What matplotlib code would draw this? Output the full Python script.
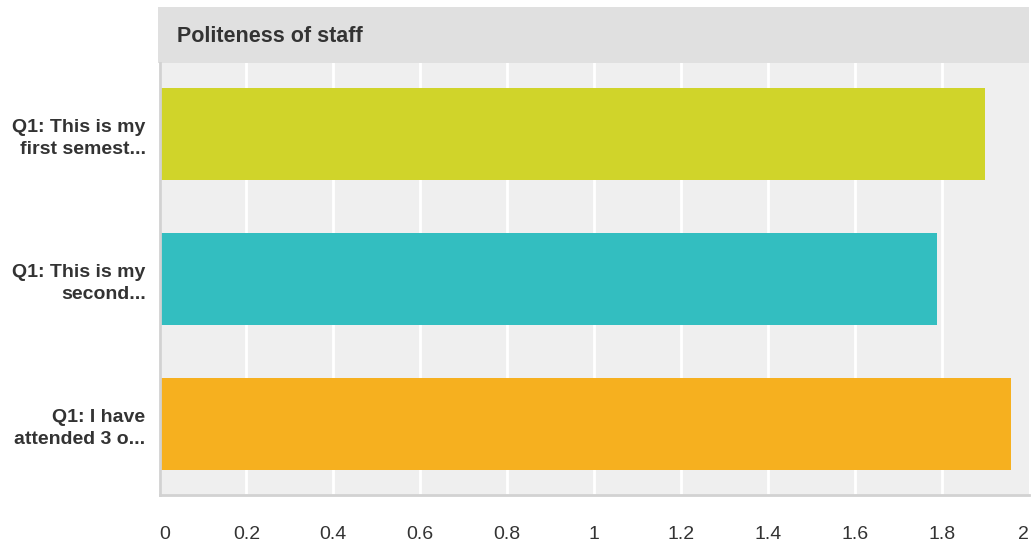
import matplotlib.pyplot as plt

plt.rcParams['font.family'] = ['Liberation Sans', 'DejaVu Sans']

categories = ["Q1: This is my\nfirst semest...", "Q1: This is my\nsecond...", "Q1: I have\nattended 3 o..."]
values = [1.90, 1.79, 1.96]
colors = ["#d0d42a", "#33bec0", "#f6b01f"]
xticks = [0, 0.2, 0.4, 0.6, 0.8, 1, 1.2, 1.4, 1.6, 1.8, 2]
title = "Politeness of staff"

fig = plt.figure(figsize=(10.34, 5.44), dpi=100)
W, H = 1034, 544

# header band
hdr = fig.add_axes([158 / W, (H - 63) / H, 871 / W, 56 / H])
hdr.set_facecolor("#e0e0e0")
hdr.set_xticks([])
hdr.set_yticks([])
for s in hdr.spines.values():
    s.set_visible(False)
hdr.text(19 / 871, 0.47, title, transform=hdr.transAxes, ha="left", va="center",
         fontsize=15.5, fontweight="bold", color="#333333")

ax = fig.add_axes([159.5 / W, (H - 495) / H, 869.5 / W, 432 / H])
ax.set_facecolor("#efefef")
ypos = list(range(len(categories)))
ax.barh(ypos, values, height=0.63, color=colors, zorder=3)
ax.set_xlim(0, 2.001)
ax.set_ylim(2.49, -0.49)
ax.set_xticks(xticks)
ax.set_xticklabels([f"{t:g}" for t in xticks])
ax.set_yticks(ypos)
ax.set_yticklabels(categories, fontsize=14, fontweight="bold", color="#333333",
                   linespacing=1.35)
ax.xaxis.grid(True, color="white", linewidth=2, zorder=1)
ax.xaxis.get_gridlines()[-1].set_visible(False)
ax.tick_params(axis="x", length=0, pad=22, labelsize=14, labelcolor="#333333")
ax.tick_params(axis="y", length=0, pad=10)
for s in ["top", "right"]:
    ax.spines[s].set_visible(False)
for s in ["left", "bottom"]:
    ax.spines[s].set_color("#d2d2d2")
    ax.spines[s].set_linewidth(2)
    ax.spines[s].set_zorder(4)

labels = ax.get_xticklabels()
labels[0].set_horizontalalignment("left")
labels[-1].set_horizontalalignment("right")

fig.savefig("out.png", dpi=100)
